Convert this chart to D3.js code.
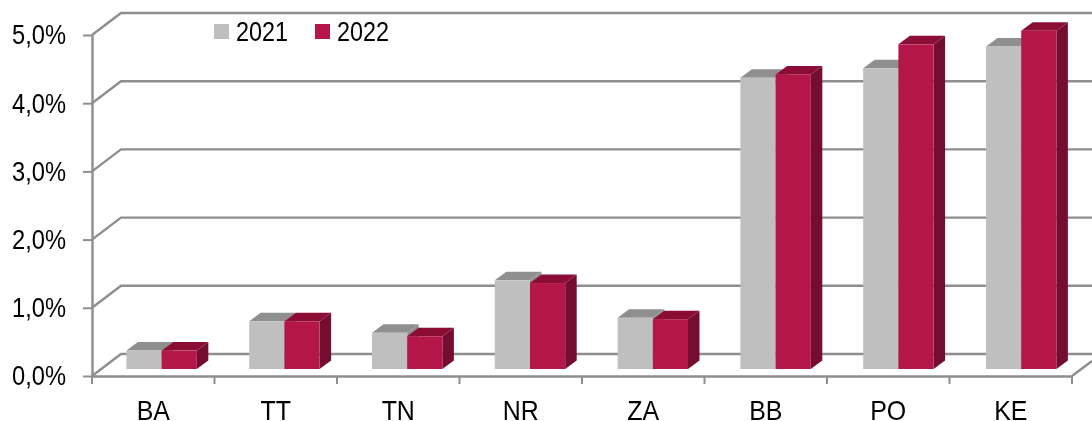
<!DOCTYPE html>
<html>
<head>
<meta charset="utf-8">
<script src="https://d3js.org/d3.v7.min.js"></script>
<style>
    html, body { margin: 0; padding: 0; background: #fff; }
    svg { display: block; }
    text { font-family: "Liberation Sans", Arial, sans-serif; fill: #000; }
</style>
</head>
<body>
<svg id="chart" width="1092" height="421"></svg>
<script>
var categories = ["BA", "TT", "TN", "NR", "ZA", "BB", "PO", "KE"];
var years = ["2021", "2022"];
var values2021 = [0.27, 0.70, 0.53, 1.30, 0.75, 4.27, 4.41, 4.73];
var values2022 = [0.27, 0.70, 0.48, 1.26, 0.73, 4.32, 4.76, 4.96];
var yTicks = [0, 1, 2, 3, 4, 5];
var yTickLabels = ["0,0%", "1,0%", "2,0%", "3,0%", "4,0%", "5,0%"];

var lineColor = "#8e8e8e";
var fontSize = "28px";
var squeeze = 0.89; // text in the picture is stretched taller than wide
var colors = {
    "2021": { front: "#bfbfbf", top: "#8f8f8f", side: "#8f8f8f" },
    "2022": { front: "#b5194a", top: "#8b1036", side: "#740f30" }
};

var root = d3.select("#chart");
// the picture is slightly soft, a small blur brings the edges closer
root.append("defs").append("filter")
    .attr("id", "soft")
    .append("feGaussianBlur")
    .attr("stdDeviation", 0.45);
var svg = root.append("g").attr("filter", "url(#soft)");

// front plane of the 3d box
var left = 92, right = 1072, bottom = 376, top_ = 35;
var wallDx = 29, wallDy = -22;   // floor depth
var barDx = 11.5, barDy = -8.5;  // depth of a bar
var baseDy = -7;                 // bars sit a bit inside the floor
var barWidth = 35.2;

var x = d3.scaleBand().domain(categories).range([left, right]);
// bars run on a slightly wider step than the axis ticks
var barX = d3.scaleBand().domain(categories).range([100.2, 1082.6]);
var y = d3.scaleLinear().domain([0, 5]).range([bottom, top_]);

function drawWalls() {
    var grid = svg.append("g").attr("class", "grid");
    yTicks.forEach(function(tick) {
        grid.append("path")
            .attr("d", d3.line()([
                [left, y(tick)],
                [left + wallDx, y(tick) + wallDy],
                [1092, y(tick) + wallDy]
            ]))
            .attr("fill", "none")
            .attr("stroke", lineColor)
            .attr("stroke-width", 2.4);
    });
    // right edge of the floor
    grid.append("path")
        .attr("d", d3.line()([[right, bottom], [1092, bottom - 15]]))
        .attr("fill", "none")
        .attr("stroke", lineColor)
        .attr("stroke-width", 2.4);
}

function drawAxes() {
    var yAxis = d3.axisLeft(y)
        .tickValues(yTicks)
        .tickFormat(function(d) { return yTickLabels[yTicks.indexOf(d)]; })
        .tickSize(9)
        .tickSizeOuter(0)
        .tickPadding(17);
    var xAxis = d3.axisBottom(x).tickSize(0).tickPadding(24);

    var gy = svg.append("g").attr("transform", "translate(" + left + ",0)").call(yAxis);
    var gx = svg.append("g").attr("transform", "translate(0," + bottom + ")").call(xAxis);

    // category boundary ticks, the band axis only gives centers
    categories.concat([null]).forEach(function(cat) {
        var px = cat === null ? right : x(cat);
        gx.append("line")
            .attr("x1", px).attr("x2", px)
            .attr("y1", 0).attr("y2", 8)
            .attr("stroke", lineColor)
            .attr("stroke-width", 2);
    });

    [gy, gx].forEach(function(g) {
        g.selectAll(".domain").attr("stroke", lineColor).attr("stroke-width", 2.4);
        g.selectAll(".tick line").attr("stroke", lineColor).attr("stroke-width", 2);
        g.selectAll("text").style("font-size", fontSize);
    });
    gy.selectAll("text").attr("textLength", 54).attr("lengthAdjust", "spacingAndGlyphs");
    gx.selectAll("text").each(function() {
        d3.select(this)
            .attr("textLength", this.getComputedTextLength() * squeeze)
            .attr("lengthAdjust", "spacingAndGlyphs");
    });
}

function drawBars() {
    var base = y(0) + baseDy;
    var unit = y(0) - y(1);
    categories.forEach(function(cat, i) {
        var x0 = barX(cat) + barX.bandwidth() / 2 - barWidth;
        [values2021[i], values2022[i]].forEach(function(v, s) {
            var c = colors[years[s]];
            var bx = x0 + s * barWidth;
            var by = base - v * unit;
            var g = svg.append("g").attr("class", "bar");
            g.append("polygon")
                .attr("points", [[bx, by], [bx + barDx, by + barDy], [bx + barWidth + barDx, by + barDy], [bx + barWidth, by]].join(" "))
                .attr("fill", c.top);
            g.append("polygon")
                .attr("points", [[bx + barWidth, by], [bx + barWidth + barDx, by + barDy], [bx + barWidth + barDx, base + barDy], [bx + barWidth, base]].join(" "))
                .attr("fill", c.side);
            g.append("rect")
                .attr("x", bx)
                .attr("y", by)
                .attr("width", barWidth)
                .attr("height", base - by)
                .attr("fill", c.front);
        });
    });
}

function drawLegend() {
    var legendX = { "2021": 214, "2022": 315 };
    years.forEach(function(year) {
        svg.append("rect")
            .attr("x", legendX[year])
            .attr("y", 24)
            .attr("width", 15)
            .attr("height", 15)
            .attr("fill", colors[year].front);
        svg.append("text")
            .attr("x", legendX[year] + 22)
            .attr("y", 41)
            .attr("textLength", 52)
            .attr("lengthAdjust", "spacingAndGlyphs")
            .style("font-size", fontSize)
            .text(year);
    });
}

drawWalls();
drawAxes();
drawBars();
drawLegend();
</script>
</body>
</html>
